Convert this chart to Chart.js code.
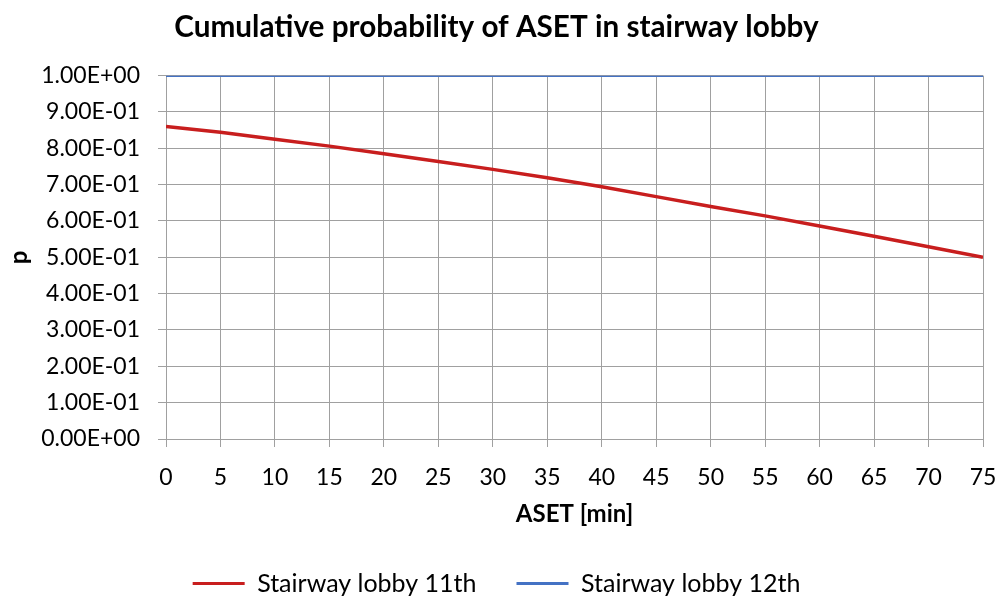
<!DOCTYPE html>
<html>
<head>
<meta charset="utf-8">
<script src="https://cdn.jsdelivr.net/npm/chart.js@4.4.1/dist/chart.umd.min.js"></script>
<style>
  html, body { margin: 0; padding: 0; background: #ffffff; }
  #wrap { width: 999px; height: 601px; }
</style>
</head>
<body>
<div id="wrap"><canvas id="c" width="999" height="601"></canvas></div>
<script>
// ---- data ----
const aset = [0, 5, 10, 15, 20, 25, 30, 35, 40, 45, 50, 55, 60, 65, 70, 75];
const lobby11 = [0.860, 0.844, 0.825, 0.806, 0.785, 0.764, 0.742, 0.719, 0.694, 0.667, 0.640, 0.614, 0.586, 0.558, 0.529, 0.500];
const lobby12 = [1.0, 1.0, 1.0, 1.0, 1.0, 1.0, 1.0, 1.0, 1.0, 1.0, 1.0, 1.0, 1.0, 1.0, 1.0, 1.0];
const yTickLabels = ['0.00E+00', '1.00E-01', '2.00E-01', '3.00E-01', '4.00E-01', '5.00E-01',
                     '6.00E-01', '7.00E-01', '8.00E-01', '9.00E-01', '1.00E+00'];
const seriesNames = ['Stairway lobby 11th', 'Stairway lobby 12th'];
const chartTitle = 'Cumulative probability of ASET in stairway lobby';
const xTitle = 'ASET [min]';
const yTitle = 'p';

const FONT = 'Lato';
const RED = '#C81E1E';
const BLUE = '#4472C4';
const GRID = '#A0A0A0';

const toXY = (xs, ys) => xs.map((x, i) => ({ x: x, y: ys[i] }));

new Chart(document.getElementById('c'), {
  type: 'line',
  data: {
    datasets: [
      { label: seriesNames[0], data: toXY(aset, lobby11), borderColor: RED, backgroundColor: RED,
        borderWidth: 3.5, pointRadius: 0, fill: false, tension: 0 },
      { label: seriesNames[1], data: toXY(aset, lobby12), borderColor: BLUE, backgroundColor: BLUE,
        borderWidth: 2.5, pointRadius: 0, fill: false, tension: 0 }
    ]
  },
  options: {
    responsive: false,
    animation: false,
    devicePixelRatio: 1,
    layout: { padding: { left: 10, right: 16, top: 0, bottom: -5 } },
    plugins: {
      title: {
        display: true, text: chartTitle, color: '#000',
        font: { family: FONT, size: 29.7, weight: 'bold' },
        padding: { top: 10, bottom: 30 }
      },
      legend: {
        position: 'bottom',
        labels: {
          color: '#000',
          font: { family: FONT, size: 25 },
          boxWidth: 52, boxHeight: 3, padding: 40,
          generateLabels: (chart) => chart.data.datasets.map((ds, i) => ({
            text: ds.label, fillStyle: ds.borderColor, strokeStyle: ds.borderColor,
            lineWidth: 0, hidden: false, datasetIndex: i, fontColor: '#000'
          }))
        }
      },
      tooltip: { enabled: false }
    },
    scales: {
      x: {
        type: 'linear', min: 0, max: 75,
        ticks: { stepSize: 5, color: '#000', font: { family: FONT, size: 23 }, padding: 17, maxRotation: 0 },
        grid: { color: GRID, lineWidth: 1, tickLength: 8, drawTicks: true },
        border: { color: GRID, width: 1 },
        title: { display: true, text: xTitle, color: '#000', font: { family: FONT, size: 24, weight: 'bold' },
                 padding: { top: 4, bottom: 2 } },
        afterFit: (s) => { s.height = 92; s.paddingLeft = 0; s.paddingRight = 0; }
      },
      y: {
        type: 'linear', min: 0, max: 1,
        ticks: { stepSize: 0.1, color: '#000', font: { family: FONT, size: 23 }, padding: 18,
                 callback: (v, i) => yTickLabels[i] },
        grid: { color: GRID, lineWidth: 1, tickLength: 8, drawTicks: true },
        border: { color: GRID, width: 1 },
        title: { display: true, text: yTitle, color: '#000', font: { family: FONT, size: 24, weight: 'bold' },
                 padding: { top: -5, bottom: 0 } },
        afterFit: (s) => { s.width = 156; }
      }
    }
  }
});
</script>
</body>
</html>
